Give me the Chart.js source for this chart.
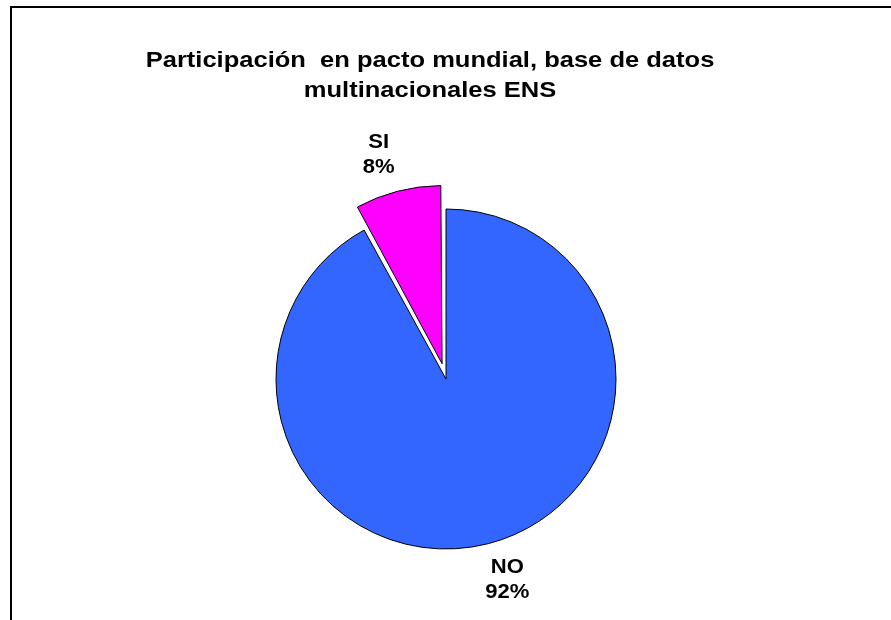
<!DOCTYPE html>
<html>
<head>
<meta charset="utf-8">
<script src="https://cdn.jsdelivr.net/npm/chart.js@4/dist/chart.umd.min.js"></script>
<style>
  html, body { margin: 0; padding: 0; background: #fff; }
  #wrap { position: relative; width: 891px; height: 620px; overflow: hidden; }
  #frame { position: absolute; left: 10px; top: 6px; width: 1000px; height: 1000px;
           border-left: 2px solid #000; border-top: 2px solid #000; }
  #chart { position: absolute; left: 0; top: 0; }
</style>
</head>
<body>
<div id="wrap">
  <div id="frame"></div>
  <canvas id="chart" width="891" height="620"></canvas>
</div>
<script>
// data
const titleLines = ['Participación  en pacto mundial, base de datos', 'multinacionales ENS'];
const categories = ['NO', 'SI'];
const shares = [92, 8];
const sliceColors = ['#3366FF', '#FF00FF'];
const explode = [0, 63];

const FONT = '"Liberation Sans", Arial, sans-serif';

// title and data labels drawn on the canvas (text stretched a bit like the original)
const textPlugin = {
    id: 'textPlugin',
    afterDraw(chart) {
        const ctx = chart.ctx;
        ctx.save();
        ctx.fillStyle = '#000';
        ctx.font = 'bold 22px ' + FONT;
        ctx.textAlign = 'center';
        ctx.textBaseline = 'alphabetic';
        titleLines.forEach((line, i) => {
            ctx.save();
            ctx.translate(430, 67 + i * 30);
            ctx.scale(1.16, 1);
            ctx.fillText(line, 0, 0);
            ctx.restore();
        });

        const meta = chart.getDatasetMeta(0);
        const total = shares.reduce((a, b) => a + b, 0);
        ctx.font = 'bold 21px ' + FONT;
        meta.data.forEach((arc, i) => {
            const p = arc.getProps(['x', 'y', 'startAngle', 'endAngle', 'outerRadius', 'circumference']);
            const mid = (p.startAngle + p.endAngle) / 2;
            // same shift the arc gets when it is exploded
            const off = (explode[i] || 0) / 4;
            const fix = 1 - Math.sin(Math.min(Math.PI, p.circumference || 0));
            const shift = off + off * fix;
            const cx = p.x + Math.cos(mid) * shift;
            const cy = p.y + Math.sin(mid) * shift;
            // best-fit labels sit a little counter-clockwise of the slice middle
            const a = mid - 0.045;
            const d = p.outerRadius + 40;
            const lx = cx + Math.cos(a) * d;
            const ly = cy + Math.sin(a) * d;
            const pct = Math.round(shares[i] / total * 100) + '%';
            ctx.textBaseline = 'middle';
            [categories[i], pct].forEach((t, j) => {
                ctx.save();
                ctx.translate(lx, ly - 12.5 + j * 25);
                ctx.scale(1.05, 1);
                ctx.fillText(t, 0, 0);
                ctx.restore();
            });
        });
        ctx.restore();
    }
};

const ctx = document.getElementById('chart').getContext('2d');
new Chart(ctx, {
    type: 'pie',
    data: {
        labels: categories,
        datasets: [{
            data: shares,
            backgroundColor: sliceColors,
            borderColor: '#000',
            borderWidth: 1,
            hoverBorderWidth: 1,
            offset: explode,
            hoverOffset: 0
        }]
    },
    options: {
        responsive: false,
        animation: false,
        events: [],
        layout: { padding: { top: 177, bottom: 39, left: 196, right: 195 } },
        plugins: {
            legend: { display: false },
            title: { display: false },
            tooltip: { enabled: false }
        }
    },
    plugins: [textPlugin]
});
</script>
</body>
</html>
